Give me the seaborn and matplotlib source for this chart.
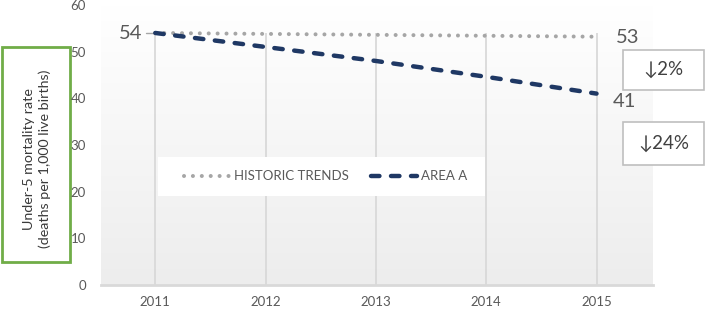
import numpy as np
import pandas as pd
import seaborn as sns
import matplotlib.pyplot as plt
from matplotlib.patches import Rectangle

years = [2011, 2012, 2013, 2014, 2015]
historic = [54, 53.8, 53.6, 53.4, 53.2]
area_a = [54, 51.0, 48.0, 44.6, 41]
series_names = ["HISTORIC TRENDS", "AREA A"]
end_labels = ["54", "53", "41"]
changes = ["\u21932%", "\u219324%"]

df = pd.DataFrame({
    "year": years * 2,
    "rate": historic + area_a,
    "series": [series_names[0]] * 5 + [series_names[1]] * 5,
})

sns.set_style("white")
plt.rcParams["font.family"] = ["Lato", "DejaVu Sans"]
grey = "#595959"
navy = "#1f3864"
dotgrey = "#a6a6a6"
dot_pat = (0.01, 2.2)
dash_pat = (1.9, 2.6)

fig = plt.figure(figsize=(7.08, 3.11), dpi=100)
ax = fig.add_axes([0.143, 0.084, 0.779, 0.9])
ax.set_facecolor("none")

# gradient background
grad = np.linspace(1, 0, 256).reshape(-1, 1)
ax.imshow(grad, extent=[0, 1, 0, 1], transform=ax.transAxes, aspect="auto",
          cmap=sns.blend_palette(["#ededed", "#ffffff"], as_cmap=True), zorder=0)

sns.lineplot(data=df, x="year", y="rate", hue="series", style="series",
             palette={series_names[0]: dotgrey, series_names[1]: navy},
             dashes={series_names[0]: dot_pat, series_names[1]: dash_pat},
             linewidth=3.2, ax=ax, legend=False, zorder=3)
for l in ax.lines:
    l.set_dash_capstyle("round")
ax.lines[0].set_linewidth(2.9)

ax.set_xlim(2010.51, 2015.51)
ax.set_ylim(0, 60)
ax.set_xticks(years)
ax.set_yticks(range(0, 61, 10))
ax.tick_params(axis="both", colors=grey, labelsize=9.5, length=0)
ax.tick_params(axis="x", pad=8)
ax.tick_params(axis="y", pad=11)
ax.vlines(years, 0, 54, color="#d9d9d9", lw=1.3, zorder=1)
for s in ["top", "right", "left"]:
    ax.spines[s].set_visible(False)
ax.spines["bottom"].set_color("#d9d9d9")
ax.spines["bottom"].set_linewidth(2)
ax.set_xlabel("")
ax.set_ylabel("")

# value labels
ax.plot([2010.92, 2010.99], [54, 54], color=dotgrey, lw=1, zorder=2)
ax.text(2010.88, 53.8, end_labels[0], fontsize=14.5, color=grey, ha="right", va="center")
ax.text(2015.18, 53.1, end_labels[1], fontsize=14.5, color=grey, ha="left", va="center")
ax.text(2015.145, 39.4, end_labels[2], fontsize=14.5, color=grey, ha="left", va="center")

# change boxes
for (y0, h, txt) in [(0.711, 0.129, changes[0]), (0.469, 0.138, changes[1])]:
    fig.patches.append(Rectangle((0.88, y0), 0.115, h, transform=fig.transFigure,
                                 facecolor="white", edgecolor="#bfbfbf", lw=1.2))
    fig.text(0.88 + 0.0575, y0 + h / 2, txt, fontsize=13.5, color="#404040",
             ha="center", va="center")

# legend box
ax.add_patch(Rectangle((2011.02, 19.07), 2.965, 8.36, facecolor="white",
                       edgecolor="none", zorder=4))
ax.plot([2011.26, 2011.67], [23.25, 23.25], color=dotgrey, lw=2.9, ls=(0, dot_pat),
        dash_capstyle="round", zorder=5)
ax.text(2011.71, 23.25, series_names[0], fontsize=9.5, color=grey, va="center", zorder=5)
ax.plot([2012.96, 2013.37], [23.25, 23.25], color=navy, lw=3.2, ls=(0, dash_pat),
        dash_capstyle="round", zorder=5)
ax.text(2013.41, 23.25, series_names[1], fontsize=9.5, color=grey, va="center", zorder=5)

# y label box
fig.patches.append(Rectangle((0.003, 0.158), 0.096, 0.691, transform=fig.transFigure,
                             facecolor="white", edgecolor="#70ad47", lw=2, zorder=-1))
fig.text(0.052, 0.49, "Under-5 mortality rate\n(deaths per 1,000 live births)",
         rotation=90, fontsize=10.3, color="#3a3a3a", ha="center", va="center",
         linespacing=1.3)

fig.savefig("out.png", dpi=100)
